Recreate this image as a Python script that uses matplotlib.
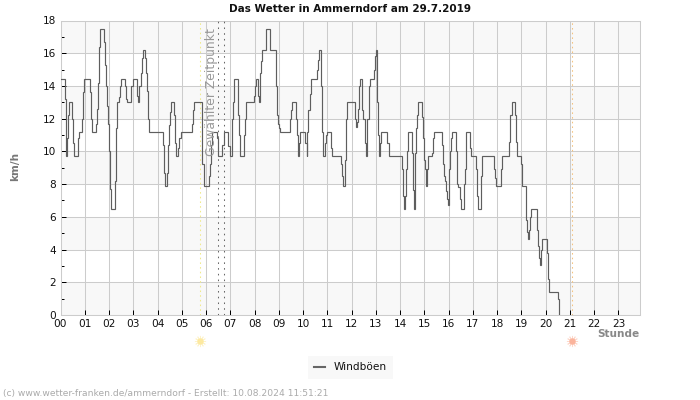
import numpy as np
import matplotlib
matplotlib.use("Agg")
import matplotlib.pyplot as plt
from matplotlib.transforms import blended_transform_factory
from matplotlib.lines import Line2D

plt.rcParams['font.family'] = 'DejaVu Sans'

TITLE = "Das Wetter in Ammerndorf am 29.7.2019"
FOOTER = "(c) www.wetter-franken.de/ammerndorf - Erstellt: 10.08.2024 11:51:21"
SERIES = "Windböen"
hour_labels = [f"{h:02d}" for h in range(24)]

# hour at which each wind gust reading starts
hours = [
    0.00,0.19,0.21,0.23,0.26,0.29,0.34,0.49,0.53,0.57,
    0.74,0.78,0.89,0.93,0.97,1.21,1.27,1.31,1.46,1.50,
    1.56,1.60,1.64,1.79,1.85,1.89,1.93,1.97,2.01,2.05,
    2.09,2.26,2.30,2.34,2.42,2.46,2.51,2.67,2.71,2.75,
    2.92,3.00,3.17,3.21,3.25,3.33,3.37,3.41,3.50,3.54,
    3.58,3.62,3.66,4.24,4.28,4.32,4.40,4.44,4.48,4.52,
    4.56,4.69,4.73,4.77,4.86,4.90,4.95,5.42,5.45,5.49,
    5.82,5.85,5.90,6.11,6.16,6.20,6.24,6.46,6.51,6.67,
    6.75,6.92,7.00,7.08,7.12,7.16,7.33,7.37,7.41,7.58,
    7.62,7.66,7.99,8.03,8.07,8.15,8.20,8.24,8.28,8.32,
    8.48,8.65,8.90,8.94,8.98,9.02,9.06,9.47,9.52,9.56,
    9.72,9.76,9.80,9.84,9.89,10.09,10.15,10.18,10.21,10.30,
    10.34,10.59,10.63,10.67,10.75,10.79,10.82,10.84,10.90,10.96,
    11.00,11.16,11.20,11.58,11.62,11.66,11.74,11.78,11.82,12.15,
    12.19,12.22,12.26,12.30,12.34,12.42,12.46,12.54,12.58,12.62,
    12.70,12.74,12.91,12.95,13.00,13.06,13.10,13.14,13.18,13.22,
    13.47,13.55,14.09,14.12,14.16,14.20,14.23,14.27,14.31,14.34,
    14.50,14.52,14.56,14.60,14.62,14.65,14.68,14.75,14.91,14.95,
    15.00,15.04,15.08,15.11,15.16,15.32,15.36,15.41,15.74,15.78,
    15.82,15.86,15.90,15.94,15.98,16.02,16.06,16.10,16.15,16.31,
    16.36,16.40,16.48,16.52,16.64,16.68,16.72,16.89,16.93,17.12,
    17.18,17.22,17.32,17.35,17.39,17.88,17.92,17.96,18.17,18.21,
    18.50,18.54,18.60,18.75,18.78,18.82,18.97,19.01,19.18,19.20,
    19.23,19.26,19.32,19.36,19.39,19.65,19.70,19.74,19.78,19.82,
    19.85,20.07,20.11,20.14,20.49,20.53,
]
gusts = [
    14.4,13.2,11.0,9.7,10.8,12.2,13.0,12.0,10.5,9.7,
    10.8,11.2,12.0,13.6,14.4,13.6,12.0,11.2,11.7,12.6,
    14.2,16.4,17.5,16.7,15.3,14.0,12.8,11.7,10.0,7.7,
    6.5,8.2,11.4,13.0,13.3,14.0,14.4,14.0,13.2,13.0,
    14.0,14.4,13.4,13.0,14.0,14.8,15.7,16.2,15.7,14.8,
    13.7,12.0,11.2,10.4,8.7,7.9,8.7,10.4,11.6,12.4,
    13.0,12.2,10.5,9.7,10.2,10.8,11.2,11.7,12.5,13.0,
    11.0,9.2,7.9,8.5,9.2,10.4,11.2,10.8,9.7,10.4,
    11.2,10.3,9.7,12.0,13.0,14.4,12.2,11.0,9.7,11.0,
    12.0,13.0,13.4,14.0,14.4,13.4,13.0,14.8,15.5,16.2,
    17.5,16.2,14.0,12.2,11.7,11.4,11.2,12.0,12.5,13.0,
    12.0,11.0,9.7,10.5,11.2,10.5,9.7,11.2,12.5,13.5,
    14.4,15.0,15.6,16.2,14.0,11.2,10.0,9.7,10.5,11.0,
    11.2,10.2,9.7,9.2,8.5,7.9,9.5,12.0,13.0,12.0,
    11.5,11.8,12.6,14.0,14.4,12.5,12.0,10.5,9.7,12.0,
    14.0,14.4,15.0,15.8,16.2,13.0,11.0,9.7,10.5,11.2,
    10.5,9.7,8.9,7.3,6.5,7.3,8.9,10.0,10.8,11.2,
    9.9,7.65,6.5,7.65,9.9,11.4,12.2,13.0,12.1,10.8,
    9.5,8.9,7.9,8.9,9.7,9.9,10.8,11.2,10.4,9.2,
    8.5,8.2,7.6,7.1,6.7,8.9,10.0,10.8,11.2,10.0,
    8.0,7.8,7.1,6.5,8.0,8.9,11.2,10.2,9.7,8.9,
    7.3,6.5,7.3,8.5,9.7,8.9,8.4,7.9,8.9,9.7,
    10.6,12.2,13.0,12.2,10.6,9.7,9.2,7.9,7.0,5.8,
    5.1,4.65,5.2,6.0,6.5,5.2,4.2,3.5,3.05,4.0,
    4.65,3.8,2.2,1.4,1.0,0.0,
]

sunrise_hour = 5.73
sunset_hour = 21.08
selected_hours = [6.5, 6.75]

W, H = 700, 400
fig = plt.figure(figsize=(W/100, H/100), dpi=100, facecolor="white")
ax = fig.add_axes([60.5/W, 1-315/H, (640.3-60.5)/W, (315-20.5)/H])
ax.set_xlim(0, 23.9)
ax.set_ylim(0, 18)
ax.set_facecolor("white")
for lo in range(0, 18, 4):
    ax.axhspan(lo, lo+2, facecolor="#f8f8f8", edgecolor="none", zorder=0)
ax.set_axisbelow(True)
ax.grid(True, which="major", color="#cccccc", lw=0.75)
for s in ax.spines.values():
    s.set_color("#cccccc")
    s.set_linewidth(0.75)

ax.set_xticks(range(24))
ax.set_xticklabels(hour_labels)
ax.set_yticks(range(0, 19, 2))
ax.set_yticks(range(1, 19, 2), minor=True)
ax.tick_params(axis="both", which="major", direction="in", length=3.6, width=0.72,
               color="black", labelsize=7.6, labelcolor="#111111")
ax.tick_params(axis="x", which="major", pad=3)
ax.tick_params(axis="y", which="major", pad=3)
ax.tick_params(axis="y", which="minor", direction="in", length=2.2, width=0.72, color="black")

ax.step(hours, gusts, where="post", color="#5e5e5e", lw=0.85, zorder=5,
        solid_joinstyle="miter")

ax.axvline(sunrise_hour, color="#f0ea8c", lw=0.75, ls=(0, (1.5, 3)), zorder=3)
ax.axvline(sunset_hour, color="#f5c27e", lw=0.75, ls=(0, (1.5, 3)), zorder=3)
for sh in selected_hours:
    ax.axvline(sh, color="#666666", lw=0.75, ls=(0, (1.5, 4)), zorder=3)

ax.text(6.22, 13.65, "Gewählter Zeitpunkt", rotation=90, ha="center", va="center",
        fontsize=8.9, color="#999999", zorder=6)

trans = blended_transform_factory(ax.transData, fig.transFigure)
for xh, col, ray in [(sunrise_hour, "#fde9a0", "#fdf3cc"), (sunset_hour, "#fbb49c", "#fdd9cc")]:
    ax.plot([xh], [1-341/H], marker=(12, 2, 0), ms=8, mew=0.6, color=ray,
            transform=trans, clip_on=False, zorder=6)
    ax.plot([xh], [1-341/H], marker="o", ms=4.6, mew=0, color=col,
            transform=trans, clip_on=False, zorder=7)

fig.text(350/W, 1-8.5/H, TITLE, ha="center", va="center", fontsize=7.5,
         fontweight="bold", color="#111111")
fig.text(15.5/W, 1-166/H, "km/h", rotation=90, ha="center", va="center", fontsize=7.6,
         fontweight="bold", color="#777777")
fig.text(639/W, 1-334/H, "Stunde", ha="right", va="center", fontsize=7.6,
         fontweight="bold", color="#888888")
fig.text(3/W, 1-393.5/H, FOOTER, ha="left", va="center", fontsize=6.6, color="#aaaaaa")

handle = Line2D([], [], color="#666666", lw=1.5)
fig.legend([handle], [SERIES], loc="center", bbox_to_anchor=(350.5/W, 1-367.5/H), ncol=1,
           frameon=True, facecolor="#f8f8f8", edgecolor="none", fancybox=False, fontsize=7.6,
           handlelength=1.05, handletextpad=0.85, borderpad=0.6, borderaxespad=0,
           labelcolor="#111111", framealpha=1)

fig.savefig("out.png", dpi=100, facecolor="white")
